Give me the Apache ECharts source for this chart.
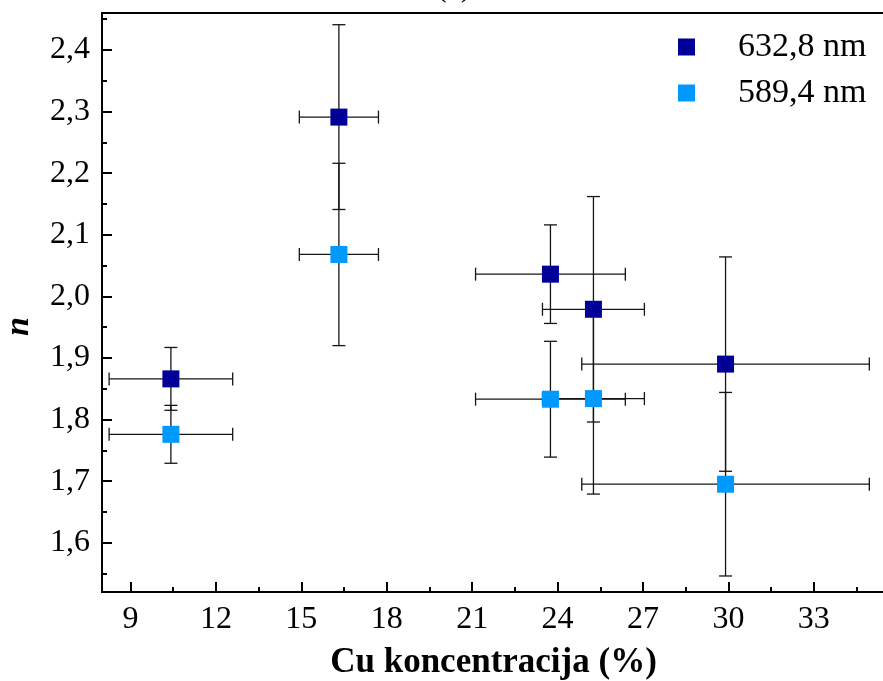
<!DOCTYPE html>
<html>
<head>
<meta charset="utf-8">
<script src="https://cdn.jsdelivr.net/npm/echarts@6/dist/echarts.min.js"></script>
<style>
  html, body { margin: 0; padding: 0; background: #fff; }
  #chart { width: 883px; height: 681px; }
</style>
</head>
<body>
<div id="chart"></div>
<script>
// Cu concentration (%) of each sample and its uncertainty
const concentration = [10.42, 16.32, 23.75, 25.26, 29.90];
const concentrationErr = [2.17, 1.39, 2.63, 1.79, 5.05];

// Refractive index n at 632,8 nm and 589,4 nm with uncertainties
const n632 = [1.866, 2.291, 2.036, 1.979, 1.890];
const n632Err = [0.051, 0.150, 0.080, 0.183, 0.174];
const n589 = [1.776, 2.068, 1.833, 1.834, 1.695];
const n589Err = [0.047, 0.148, 0.094, 0.155, 0.149];

const seriesNames = ['632,8 nm', '589,4 nm'];
const seriesColors = ['#000099', '#0099ff'];

// Axis ticks
const xTicks = [9, 12, 15, 18, 21, 24, 27, 30, 33];
const xMinorTicks = [10.5, 13.5, 16.5, 19.5, 22.5, 25.5, 28.5, 31.5, 34.5];
const yTicks = [1.6, 1.7, 1.8, 1.9, 2.0, 2.1, 2.2, 2.3, 2.4];
const yMinorTicks = [1.55, 1.65, 1.75, 1.85, 1.95, 2.05, 2.15, 2.25, 2.35, 2.45];

const FONT = '"Liberation Serif", "Times New Roman", serif';
const X_MIN = 8, X_MAX = 35.5, Y_MIN = 1.52, Y_MAX = 2.46;

function errorBars(params, api) {
  const x = api.value(0), y = api.value(1), xe = api.value(2), ye = api.value(3);
  const top = api.coord([x, y + ye]);
  const bot = api.coord([x, y - ye]);
  const lft = api.coord([x - xe, y]);
  const rgt = api.coord([x + xe, y]);
  const cap = 6.5;
  const style = { stroke: '#151515', lineWidth: 1.3 };
  const seg = (x1, y1, x2, y2) => ({ type: 'line', shape: { x1, y1, x2, y2 }, style });
  return {
    type: 'group',
    children: [
      seg(top[0], top[1], bot[0], bot[1]),
      seg(top[0] - cap, top[1], top[0] + cap, top[1]),
      seg(bot[0] - cap, bot[1], bot[0] + cap, bot[1]),
      seg(lft[0], lft[1], rgt[0], rgt[1]),
      seg(lft[0], lft[1] - cap, lft[0], lft[1] + cap),
      seg(rgt[0], rgt[1] - cap, rgt[0], rgt[1] + cap)
    ]
  };
}

function errorData(ys, yErrs) {
  return concentration.map((x, i) => [x, ys[i], concentrationErr[i], yErrs[i]]);
}
function pointData(ys) {
  return concentration.map((x, i) => [x, ys[i]]);
}

const chart = echarts.init(document.getElementById('chart'), null, { renderer: 'canvas' });

const axisLineStyle = { color: '#000', width: 2 };

chart.setOption({
  animation: false,
  backgroundColor: '#fff',
  title: {
    text: '(a)',
    left: 431,
    top: -33,
    textStyle: { fontFamily: FONT, fontSize: 32, fontWeight: 'normal', color: '#000', lineHeight: 32 }
  },
  legend: {
    orient: 'vertical',
    left: 678,
    top: 30,
    padding: 0,
    itemWidth: 17,
    itemHeight: 17,
    itemGap: 12,
    icon: 'rect',
    data: seriesNames,
    textStyle: { fontFamily: FONT, fontSize: 34, color: '#000', lineHeight: 34, padding: [0, 0, 0, 38] }
  },
  grid: {
    left: 102, right: -2, top: 13, bottom: 89,
    outerBoundsMode: 'none',
    containLabel: false,
    show: true, borderColor: '#000', borderWidth: 2, backgroundColor: 'transparent'
  },
  xAxis: [
    {
      type: 'value', min: X_MIN, max: X_MAX,
      name: 'Cu koncentracija (%)',
      nameLocation: 'middle',
      nameGap: 53,
      nameTextStyle: { fontFamily: FONT, fontSize: 35, fontWeight: 'bold', color: '#000', lineHeight: 35 },
      axisLine: { lineStyle: axisLineStyle },
      axisTick: { inside: true, length: 10, lineStyle: { color: '#000', width: 2 }, customValues: xTicks },
      axisLabel: { customValues: xTicks, margin: 12, fontFamily: FONT, fontSize: 32, color: '#000' },
      splitLine: { show: false }
    },
    {
      type: 'value', min: X_MIN, max: X_MAX, position: 'bottom',
      axisLine: { show: false },
      axisTick: { inside: true, length: 5, lineStyle: { color: '#000', width: 2 }, customValues: xMinorTicks },
      axisLabel: { show: false },
      splitLine: { show: false }
    }
  ],
  yAxis: [
    {
      type: 'value', min: Y_MIN, max: Y_MAX,
      name: 'n',
      nameLocation: 'middle',
      nameGap: 66,
      nameTextStyle: { fontFamily: FONT, fontSize: 34, fontWeight: 'bold', fontStyle: 'italic', color: '#000', lineHeight: 34, padding: [0, 48, 0, 0] },
      axisLine: { lineStyle: axisLineStyle },
      axisTick: { inside: true, length: 10, lineStyle: { color: '#000', width: 2 }, customValues: yTicks },
      axisLabel: {
        customValues: yTicks, margin: 12, fontFamily: FONT, fontSize: 32, color: '#000',
        formatter: v => v.toFixed(1).replace('.', ',')
      },
      splitLine: { show: false }
    },
    {
      type: 'value', min: Y_MIN, max: Y_MAX, position: 'left',
      axisLine: { show: false },
      axisTick: { inside: true, length: 5, lineStyle: { color: '#000', width: 2 }, customValues: yMinorTicks },
      axisLabel: { show: false },
      splitLine: { show: false }
    }
  ],
  series: [
    {
      type: 'custom', name: seriesNames[0] + ' err', renderItem: errorBars,
      data: errorData(n632, n632Err), z: 2, silent: true
    },
    {
      type: 'custom', name: seriesNames[1] + ' err', renderItem: errorBars,
      data: errorData(n589, n589Err), z: 2, silent: true
    },
    {
      type: 'scatter', name: seriesNames[0], symbol: 'rect', symbolSize: 17,
      itemStyle: { color: seriesColors[0], opacity: 1 }, data: pointData(n632), z: 5
    },
    {
      type: 'scatter', name: seriesNames[1], symbol: 'rect', symbolSize: 17,
      itemStyle: { color: seriesColors[1], opacity: 1 }, data: pointData(n589), z: 5
    }
  ]
});
</script>
</body>
</html>
